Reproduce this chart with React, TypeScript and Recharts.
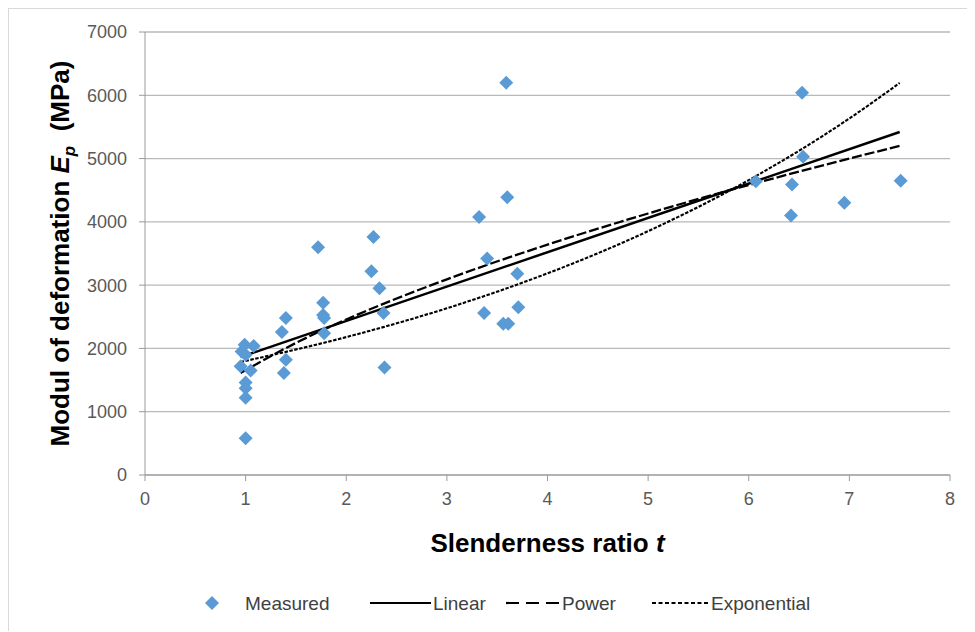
import { ComposedChart, Scatter, Line, XAxis, YAxis, CartesianGrid, Label } from 'recharts'

// measured points: slenderness ratio t vs. modulus of deformation Ep (MPa)
const measuredT = [
  0.99, 1.08, 0.96, 1.0, 0.95, 1.05, 1.0, 1.0, 1.0, 1.0,
  1.36, 1.4, 1.4, 1.38,
  1.72, 1.77, 1.77, 1.78, 1.78,
  2.27, 2.25, 2.33, 2.37, 2.38,
  3.32, 3.4, 3.7, 3.37, 3.56, 3.61, 3.71, 3.59, 3.6,
  6.07, 6.53, 6.54, 6.43, 6.42, 6.95, 7.51,
]
const measuredE = [
  2060, 2040, 1950, 1900, 1720, 1650, 1460, 1370, 1220, 580,
  2260, 2480, 1820, 1610,
  3600, 2720, 2530, 2480, 2240,
  3760, 3220, 2950, 2560, 1700,
  4075, 3420, 3180, 2560, 2390, 2390, 2650, 6200, 4390,
  4640, 6040, 5030, 4590, 4100, 4300, 4650,
]

// trend lines
const linearT = [0.95, 7.5]
const linearE = [1864, 5420]
const powerT = [0.95, 1.5, 2, 3, 4, 5, 6, 7, 7.5]
const powerE = [1611, 2087, 2457, 3092, 3640, 4132, 4582, 5000, 5200]
const expT = [0.95, 2, 3, 4, 5, 6, 7, 7.5]
const expE = [1785, 2179, 2635, 3186, 3853, 4659, 5634, 6195]

const xTicks = [0, 1, 2, 3, 4, 5, 6, 7, 8]
const yTicks = [0, 1000, 2000, 3000, 4000, 5000, 6000, 7000]

const zip = (xs: number[], ys: number[]) => xs.map((x, i) => ({ x, y: ys[i] }))

const measured = zip(measuredT, measuredE)
const linear = zip(linearT, linearE)
const power = zip(powerT, powerE)
const exponential = zip(expT, expE)

const FONT = '"Liberation Sans", Arial, sans-serif'
const BLUE = '#5B9BD5'

const Diamond = (props: any) => {
  const { cx, cy } = props
  if (cx == null || cy == null) return null
  const r = 7
  return <polygon points={`${cx},${cy - r} ${cx + r},${cy} ${cx},${cy + r} ${cx - r},${cy}`} fill={BLUE} />
}

const YTitle = (props: any) => {
  const vb = props.viewBox || { x: 0, y: 23, width: 136, height: 443 }
  const x = vb.x + 60
  const y = vb.y + vb.height / 2
  return (
    <text
      x={x}
      y={y}
      transform={`rotate(-90 ${x} ${y})`}
      textAnchor="middle"
      fontFamily={FONT}
      fontWeight="bold"
      fontSize={26}
      fill="#000"
      style={{ whiteSpace: 'pre' }}
    >
      Modul of deformation <tspan fontStyle="italic">E</tspan>
      <tspan fontStyle="italic" fontSize={17} dy={6}>p</tspan>
      <tspan dy={-6}>{'  (MPa)'}</tspan>
    </text>
  )
}

const XTitle = (props: any) => {
  const vb = props.viewBox || { x: 136, y: 466, width: 805, height: 90 }
  const x = vb.x + vb.width / 2
  const y = vb.y + 77
  return (
    <text x={x} y={y} textAnchor="middle" fontFamily={FONT} fontWeight="bold" fontSize={26} fill="#000">
      Slenderness ratio <tspan fontStyle="italic">t</tspan>
    </text>
  )
}

const LegendRow = () => (
  <svg width={960} height={36} style={{ position: 'absolute', left: 0, top: 576 }}>
    <g fontFamily={FONT} fontSize={19} fill="#404040">
      <polygon points="203,11 210,18 203,25 196,18" fill={BLUE} />
      <text x={236} y={25}>Measured</text>
      <line x1={361} y1={18} x2={422} y2={18} stroke="#000" strokeWidth={2.2} />
      <text x={424} y={25}>Linear</text>
      <line x1={497} y1={18} x2={552} y2={18} stroke="#000" strokeWidth={2.2} strokeDasharray="13 7" />
      <text x={553} y={25}>Power</text>
      <line x1={643} y1={18} x2={700} y2={18} stroke="#000" strokeWidth={1.8} strokeDasharray="4 2.5" />
      <text x={702} y={25}>Exponential</text>
    </g>
  </svg>
)

export default function App() {
  return (
    <div
      style={{
        position: 'relative',
        width: 966,
        height: 622,
        borderTop: '1px solid #d9d9d9',
        borderLeft: '1px solid #d9d9d9',
        background: '#fff',
      }}
    >
      <ComposedChart width={966} height={622} margin={{ top: 23, right: 25, bottom: 66, left: 0 }}>
        <CartesianGrid vertical={false} stroke="#b9b9b9" strokeWidth={1.3} />
        <XAxis
          type="number"
          dataKey="x"
          domain={[0, 8]}
          ticks={xTicks}
          height={90}
          stroke="#9a9a9a"
          tickSize={6}
          tickMargin={11}
          tick={{ fill: '#595959', fontSize: 18, fontFamily: FONT }}
        >
          <Label content={<XTitle />} position="bottom" />
        </XAxis>
        <YAxis
          type="number"
          domain={[0, 7000]}
          ticks={yTicks}
          width={136}
          stroke="#9a9a9a"
          tickSize={6}
          tickMargin={12}
          tick={{ fill: '#595959', fontSize: 18, fontFamily: FONT }}
        >
          <Label content={<YTitle />} position="insideLeft" />
        </YAxis>
        <Scatter data={measured} dataKey="y" shape={<Diamond />} isAnimationActive={false} />
        <Line data={power} dataKey="y" type="monotone" stroke="#000" strokeWidth={2.3} strokeDasharray="10 3" dot={false} isAnimationActive={false} />
        <Line data={exponential} dataKey="y" type="monotone" stroke="#000" strokeWidth={2.1} strokeDasharray="3.5 1.5" dot={false} isAnimationActive={false} />
        <Line data={linear} dataKey="y" type="linear" stroke="#000" strokeWidth={2.5} dot={false} isAnimationActive={false} />
      </ComposedChart>
      <LegendRow />
    </div>
  )
}
